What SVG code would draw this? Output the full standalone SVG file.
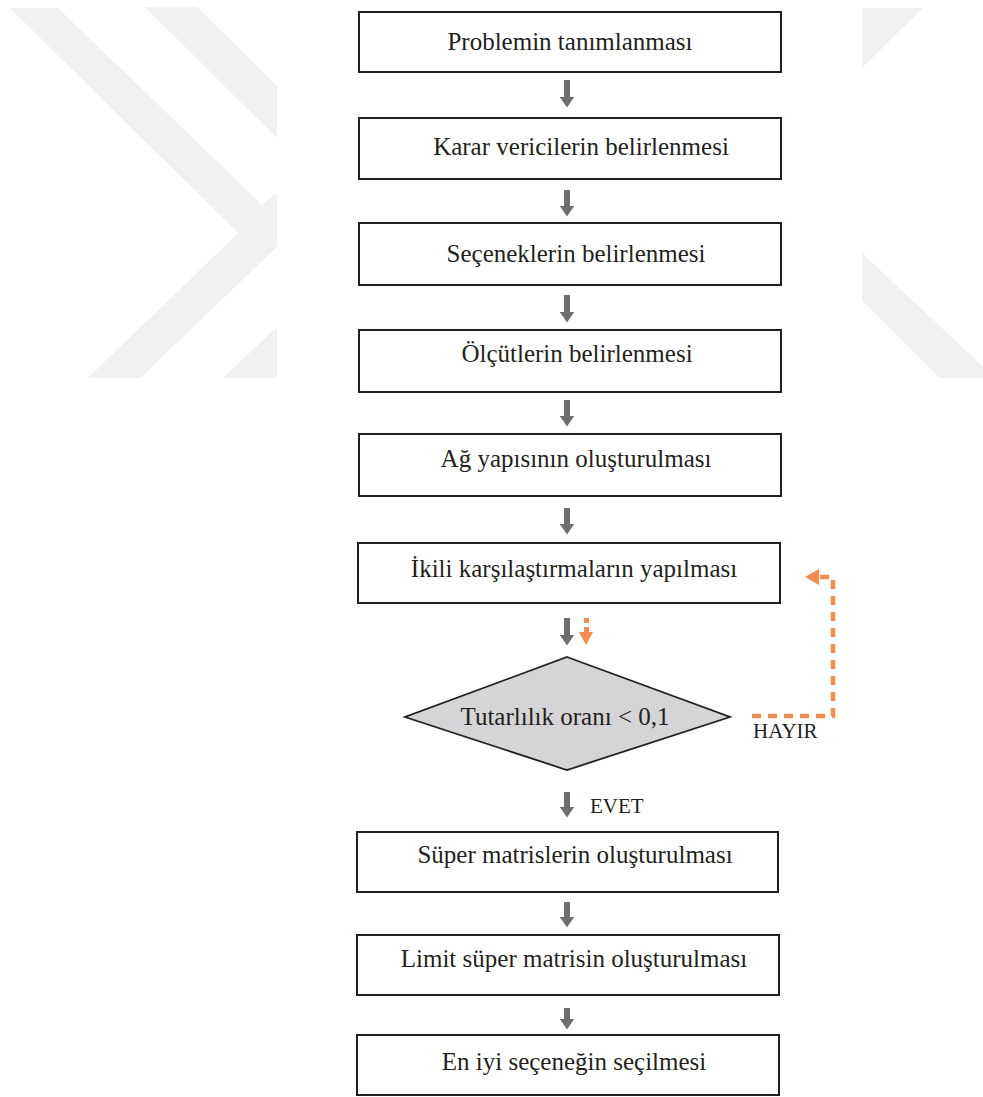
<svg xmlns="http://www.w3.org/2000/svg" width="983" height="1097" viewBox="0 0 983 1097">
<style>
.wm{fill:#f1f1f1;stroke:none}
.box{fill:#ffffff;stroke:#231f20;stroke-width:2}
.dia{fill:#d5d5d7;stroke:#231f20;stroke-width:1.8}
.t{font-family:"Liberation Serif","Times New Roman",serif;font-size:25px;fill:#231f20;text-anchor:middle}
.lbl{font-family:"Liberation Serif","Times New Roman",serif;font-size:21px;fill:#231f20}
.arr{stroke:#6d6e70;stroke-width:6;fill:none}
.oarr{stroke:#f58b4c;stroke-width:4.5;fill:none;stroke-dasharray:9 7}
.ofill{fill:#f58b4c;stroke:none}
</style>
<defs>
<marker id="gh" viewBox="0 0 11 15" markerWidth="11" markerHeight="15" refX="0.5" refY="7.5" orient="auto" markerUnits="userSpaceOnUse">
<path d="M0,0 L11,7.5 L0,15 z" fill="#6d6e70"/>
</marker>
</defs>
<rect width="983" height="1097" fill="#ffffff"/>
<g id="watermark">
<polygon class="wm" points="10,8 58,8 262,205 277,192 277,247 140,378 88,378 238,233"/>
<polygon class="wm" points="145,7 197,7 277,86 277,138"/>
<polygon class="wm" points="223,378 277,327 277,376 273,378"/>
<polygon class="wm" points="862,8 923,8 862,68"/>
<polygon class="wm" points="862,253 983,367 983,378 940,378 862,300"/>
</g>
<g id="connectors">
<line class="arr" x1="567" y1="80" x2="567" y2="97" marker-end="url(#gh)"/>
<line class="arr" x1="567" y1="190" x2="567" y2="206" marker-end="url(#gh)"/>
<line class="arr" x1="567" y1="295" x2="567" y2="312" marker-end="url(#gh)"/>
<line class="arr" x1="567" y1="400" x2="567" y2="416" marker-end="url(#gh)"/>
<line class="arr" x1="567" y1="508" x2="567" y2="524" marker-end="url(#gh)"/>
<line class="arr" x1="567" y1="618" x2="567" y2="635" marker-end="url(#gh)"/>
<line class="arr" x1="567" y1="792" x2="567" y2="807" marker-end="url(#gh)"/>
<line class="arr" x1="567" y1="902" x2="567" y2="917" marker-end="url(#gh)"/>
<line class="arr" x1="567" y1="1008" x2="567" y2="1019" marker-end="url(#gh)"/>
<path class="oarr" d="M752,716 H833 V577 H820"/>
<polygon class="ofill" points="805,577 819,569 819,585"/>
<rect class="ofill" x="584" y="618" width="5" height="5"/>
<rect class="ofill" x="584" y="627" width="5" height="6"/>
<polygon class="ofill" points="579,632 593,632 586,645"/>
<text class="lbl" x="753" y="738">HAYIR</text>
<text class="lbl" x="590" y="813">EVET</text>
</g>
<g id="n1"><rect class="box" x="359" y="12" width="422" height="60"/><text class="t" x="570" y="50">Problemin tanımlanması</text></g>
<g id="n2"><rect class="box" x="359" y="118" width="422" height="61"/><text class="t" x="581" y="155">Karar vericilerin belirlenmesi</text></g>
<g id="n3"><rect class="box" x="359" y="223" width="422" height="62"/><text class="t" x="576" y="262">Seçeneklerin belirlenmesi</text></g>
<g id="n4"><rect class="box" x="359" y="330" width="422" height="62"/><text class="t" x="577" y="362">Ölçütlerin belirlenmesi</text></g>
<g id="n5"><rect class="box" x="359" y="434" width="422" height="62"/><text class="t" x="576" y="467">Ağ yapısının oluşturulması</text></g>
<g id="n6"><rect class="box" x="358" y="543" width="422" height="60"/><text class="t" x="574" y="577">İkili karşılaştırmaların yapılması</text></g>
<g id="n7"><polygon class="dia" points="567,657 730,717 567,770 405,717"/><text class="t" x="565" y="725">Tutarlılık oranı &lt; 0,1</text></g>
<g id="n8"><rect class="box" x="357" y="832" width="421" height="60"/><text class="t" x="575" y="863">Süper matrislerin oluşturulması</text></g>
<g id="n9"><rect class="box" x="357" y="935" width="422" height="60"/><text class="t" x="574" y="967">Limit süper matrisin oluşturulması</text></g>
<g id="n10"><rect class="box" x="357" y="1035" width="422" height="60"/><text class="t" x="574" y="1070">En iyi seçeneğin seçilmesi</text></g>
</svg>
